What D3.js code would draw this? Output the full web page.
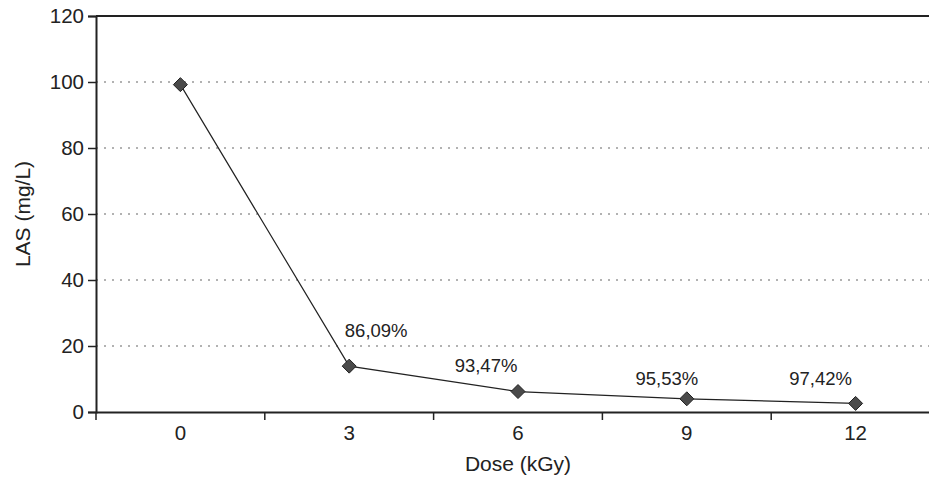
<!DOCTYPE html>
<html>
<head>
<meta charset="utf-8">
<script src="https://cdn.jsdelivr.net/npm/d3@7"></script>
<style>
  body { margin: 0; background: #fff; }
  svg { display: block; font-family: "Liberation Sans", Arial, sans-serif; }
  text { fill: #222; }
</style>
</head>
<body>
<svg width="929" height="479"></svg>
<script>
const doses = ["0", "3", "6", "9", "12"];
const las = [99.2, 13.9, 6.2, 4.0, 2.6];
const removal = [null, "86,09%", "93,47%", "95,53%", "97,42%"];
const yTicks = [0, 20, 40, 60, 80, 100, 120];

const svg = d3.select("svg");

const margin = { top: 16, left: 96, bottom: 412, right: 940 };

const data = doses.map((d, i) => ({ dose: d, value: las[i], label: removal[i] }));

const xScale = d3.scaleBand()
    .domain(doses)
    .range([margin.left, margin.right])
    .padding(0);

const yScale = d3.scaleLinear()
    .domain([0, 120])
    .range([margin.bottom, margin.top]);

const cx = d => xScale(d.dose) + xScale.bandwidth() / 2;

// dotted gridlines
svg.append("g")
    .selectAll("line")
    .data(yTicks.filter(t => t > 0 && t < 120))
    .enter()
    .append("line")
    .attr("x1", margin.left)
    .attr("x2", margin.right)
    .attr("y1", d => yScale(d))
    .attr("y2", d => yScale(d))
    .attr("stroke", "#999")
    .attr("stroke-width", 1.6)
    .attr("stroke-dasharray", "2,6");

// top border
svg.append("line")
    .attr("x1", margin.left)
    .attr("x2", margin.right)
    .attr("y1", yScale(120))
    .attr("y2", yScale(120))
    .attr("stroke", "#222")
    .attr("stroke-width", 2);

// y axis
const yAxis = svg.append("g")
    .attr("transform", `translate(${margin.left},0)`)
    .call(d3.axisLeft(yScale).tickValues(yTicks).tickSize(8).tickPadding(4));
yAxis.select(".domain").attr("stroke", "#222").attr("stroke-width", 2);
yAxis.selectAll(".tick line").attr("stroke", "#222").attr("stroke-width", 1.5);
yAxis.selectAll("text").style("font-size", "20.5px").attr("fill", "#222");

// x axis: labels at band centres, ticks at band edges
const xAxis = svg.append("g")
    .attr("transform", `translate(0,${margin.bottom})`)
    .call(d3.axisBottom(xScale).tickSize(0).tickPadding(13));
xAxis.select(".domain").attr("stroke", "#222").attr("stroke-width", 2);
xAxis.selectAll("text").style("font-size", "20.5px").attr("fill", "#222");

const edges = doses.map(d => xScale(d)).concat([margin.right]);
xAxis.selectAll(".edge")
    .data(edges)
    .enter()
    .append("line")
    .attr("class", "edge")
    .attr("x1", d => d)
    .attr("x2", d => d)
    .attr("y1", 0)
    .attr("y2", 8)
    .attr("stroke", "#222")
    .attr("stroke-width", 1.5);

// series line
svg.append("path")
    .datum(data)
    .attr("fill", "none")
    .attr("stroke", "#222")
    .attr("stroke-width", 1.2)
    .attr("d", d3.line().x(cx).y(d => yScale(d.value)));

// diamond markers
svg.selectAll(".marker")
    .data(data)
    .enter()
    .append("path")
    .attr("class", "marker")
    .attr("transform", d => `translate(${cx(d)},${yScale(d.value)})`)
    .attr("d", "M0,-7L7,0L0,7L-7,0Z")
    .attr("fill", "#4a4a4a")
    .attr("stroke", "#222")
    .attr("stroke-width", 1);

// removal labels, nudged like the original
const nudge = [null, [27, -29], [-32, -20], [-20, -14], [-35, -18]];
svg.selectAll(".label")
    .data(data.filter(d => d.label))
    .enter()
    .append("text")
    .attr("class", "label")
    .attr("x", d => cx(d) + nudge[doses.indexOf(d.dose)][0])
    .attr("y", d => yScale(d.value) + nudge[doses.indexOf(d.dose)][1])
    .attr("text-anchor", "middle")
    .style("font-size", "18.5px")
    .text(d => d.label);

// axis titles
svg.append("text")
    .attr("x", (margin.left + margin.right) / 2)
    .attr("y", 471)
    .attr("text-anchor", "middle")
    .style("font-size", "21px")
    .text("Dose (kGy)");

svg.append("text")
    .attr("transform", "rotate(-90)")
    .attr("x", -(margin.top + margin.bottom) / 2)
    .attr("y", 30)
    .attr("text-anchor", "middle")
    .style("font-size", "21px")
    .text("LAS (mg/L)");
</script>
</body>
</html>
